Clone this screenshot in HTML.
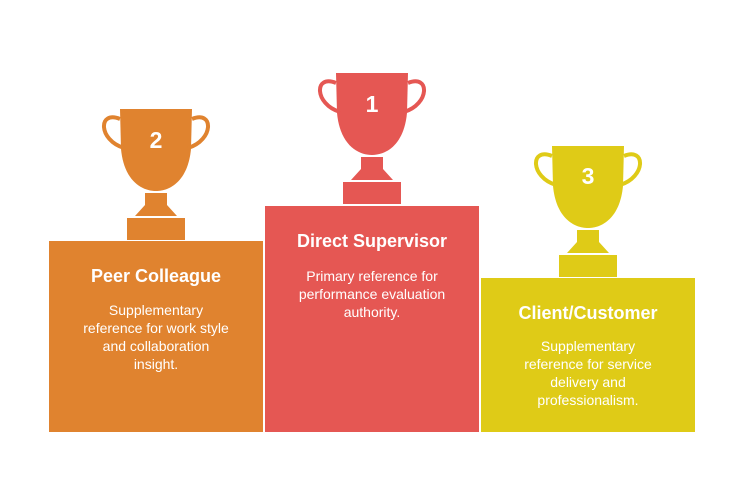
<!DOCTYPE html>
<html><head><style>
body{margin:0;background:#fff;width:744px;height:481px;overflow:hidden;font-family:"Liberation Sans",Arial,sans-serif}
.p{position:absolute;color:#fff;text-align:center}
.t{position:absolute;left:0;right:0;font-weight:bold;font-size:18px}
.d{position:absolute;font-size:14px;line-height:18px}
</style></head><body>
<svg width="744" height="481" style="position:absolute;left:0;top:0">
<defs>
<g id="tr">
<path d="M-36,0 L36,0 L35,40 C32,72 14,82 0,82 C-14,82 -32,72 -35,40 Z"/>
<path d="M-11,84 L11,84 L11,96 L21,107 L-21,107 L-11,96 Z"/>
<rect x="-29" y="109" width="58" height="22"/>
</g>
</defs>
<g fill="#E0832F" stroke="none">
<use href="#tr" transform="translate(156,109)"/>
<path d="M120,119 C98,110 98,140 124,148 M192,119 C214,110 214,140 188,148" fill="none" stroke="#E0832F" stroke-width="4"/>
<rect x="49" y="241" width="214" height="191"/>
</g>
<g fill="#E55753">
<use href="#tr" transform="translate(372,73)"/>
<path d="M336,83 C314,74 314,104 340,112 M408,83 C430,74 430,104 404,112" fill="none" stroke="#E55753" stroke-width="4"/>
<rect x="265" y="206" width="214" height="226"/>
</g>
<g fill="#DFCB17">
<use href="#tr" transform="translate(588,146)"/>
<path d="M552,156 C530,147 530,177 556,185 M624,156 C646,147 646,177 620,185" fill="none" stroke="#DFCB17" stroke-width="4"/>
<rect x="481" y="278" width="214" height="154"/>
</g>
<g fill="#fff" font-family="Liberation Sans,Arial,sans-serif" font-weight="bold" font-size="23" text-anchor="middle">
<text x="156" y="148">2</text>
<text x="372" y="112">1</text>
<text x="588" y="184">3</text>
</g>
</svg>
<div class="p" style="left:49px;top:241px;width:214px;height:191px">
<div class="t" style="top:25px">Peer Colleague</div>
<div class="d" style="top:60px;left:32px;right:32px">Supplementary reference for work style and collaboration insight.</div>
</div>
<div class="p" style="left:265px;top:206px;width:214px;height:226px">
<div class="t" style="top:25px">Direct Supervisor</div>
<div class="d" style="top:61px;left:27px;right:27px">Primary reference for performance evaluation authority.</div>
</div>
<div class="p" style="left:481px;top:278px;width:214px;height:154px">
<div class="t" style="top:25px">Client/Customer</div>
<div class="d" style="top:59px;left:37px;right:37px">Supplementary reference for service delivery and professionalism.</div>
</div>
</body></html>
